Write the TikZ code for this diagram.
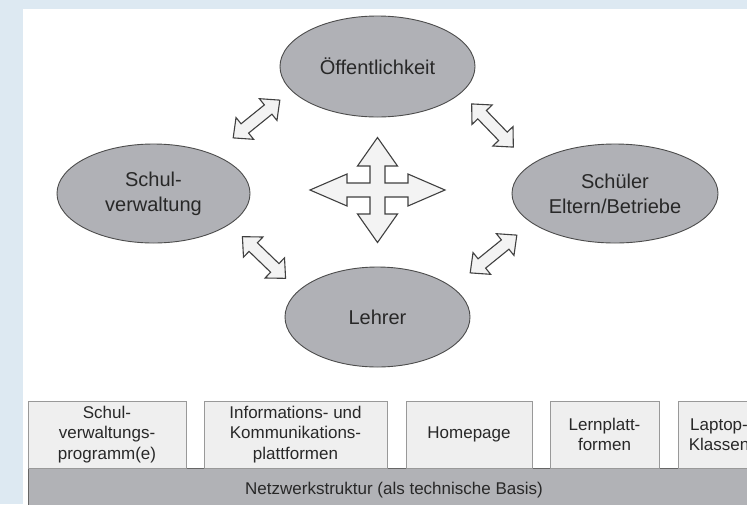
\documentclass[tikz,border=0pt]{standalone}
\usepackage{fontspec}
\setmainfont{Liberation Sans}
\usetikzlibrary{shapes.geometric}
\definecolor{bgblue}{RGB}{221,233,242}
\definecolor{ellfill}{RGB}{176,177,182}
\definecolor{barfill}{RGB}{177,178,182}
\definecolor{boxfill}{RGB}{239,239,239}
\definecolor{arrfill}{RGB}{243,243,243}
\definecolor{txt}{RGB}{40,40,40}
\tikzset{
  ell/.style={ellipse, draw=black!70, line width=0.9pt, fill=ellfill, inner sep=0pt,
    align=center, text=txt, font=\fontsize{20}{25}\selectfont},
  boxnode/.style={rectangle, draw=black!40, line width=0.8pt, fill=boxfill, inner sep=0pt,
    align=center, text=txt, font=\fontsize{17}{20.5}\selectfont, minimum height=67pt},
  barnode/.style={rectangle, draw=black!60, line width=0.8pt, fill=barfill, inner sep=0pt,
    text=txt, font=\fontsize{17}{20.5}\selectfont},
  blockarrow/.style={draw=black!75, line width=1.1pt, fill=arrfill, line join=miter},
  dblarrow/.pic={
    \draw[blockarrow] (-30,0) -- (-15,14) -- (-15,6) -- (15,6) -- (15,14) -- (30,0)
      -- (15,-14) -- (15,-6) -- (-15,-6) -- (-15,-14) -- cycle;
  }
}
\begin{document}
\begin{tikzpicture}[x=1pt,y=-1pt]
\useasboundingbox (0,0) rectangle (747,504);
\fill[bgblue] (0,0) rectangle (747,504);
\fill[white] (23,9) rectangle (747,504);

% ellipses
\node[ell, minimum width=195pt, minimum height=101pt] (oeff) at (377.5,66.5) {Öffentlichkeit};
\node[ell, minimum width=193pt, minimum height=99pt] (schul) at (153.5,193.5) {Schul-\\verwaltung};
\node[ell, minimum width=206pt, minimum height=99pt] (schueler) at (615,193.5) {Schüler\\Eltern/Betriebe};
\node[ell, minimum width=185pt, minimum height=100pt] (lehrer) at (377.5,317) {Lehrer};

% central four-way arrow
\coordinate (mid) at (377.5,190);
\draw[blockarrow, shift={(mid)}]
  (0,-52.5) -- (20,-24) -- (7.5,-24) -- (7.5,-7) -- (30.5,-7) -- (30.5,-16) -- (67.5,0)
  -- (30.5,16) -- (30.5,7) -- (7.5,7) -- (7.5,24) -- (20,24) -- (0,52.5)
  -- (-20,24) -- (-7.5,24) -- (-7.5,7) -- (-30.5,7) -- (-30.5,16) -- (-67.5,0)
  -- (-30.5,-16) -- (-30.5,-7) -- (-7.5,-7) -- (-7.5,-24) -- (-20,-24) -- cycle;

% diagonal double arrows
\pic[rotate=39] at (256.5,119) {dblarrow};
\pic[rotate=-46] at (492.5,125.5) {dblarrow};
\pic[rotate=-44] at (264,257.5) {dblarrow};
\pic[rotate=39] at (493.5,254) {dblarrow};

% bottom layer
\begin{scope}
\clip (0,0) rectangle (747,504);
\node[barnode, minimum width=732pt, minimum height=44pt] (net) at (394,490)
  {Netzwerkstruktur (als technische Basis)};
\node[boxnode, minimum width=158pt] (b1) at (107,434.5) {Schul-\\verwaltungs-\\programm(e)};
\node[boxnode, minimum width=183pt] (b2) at (295.5,434.5) {Informations- und\\Kommunikations-\\plattformen};
\node[boxnode, minimum width=126pt] (b3) at (469,434.5) {Homepage};
\node[boxnode, minimum width=109pt] (b4) at (604.5,434.5) {Lernplatt-\\formen};
\node[boxnode, minimum width=82pt] (b5) at (719,434.5) {Laptop-\\Klassen};
\end{scope}
\end{tikzpicture}
\end{document}
